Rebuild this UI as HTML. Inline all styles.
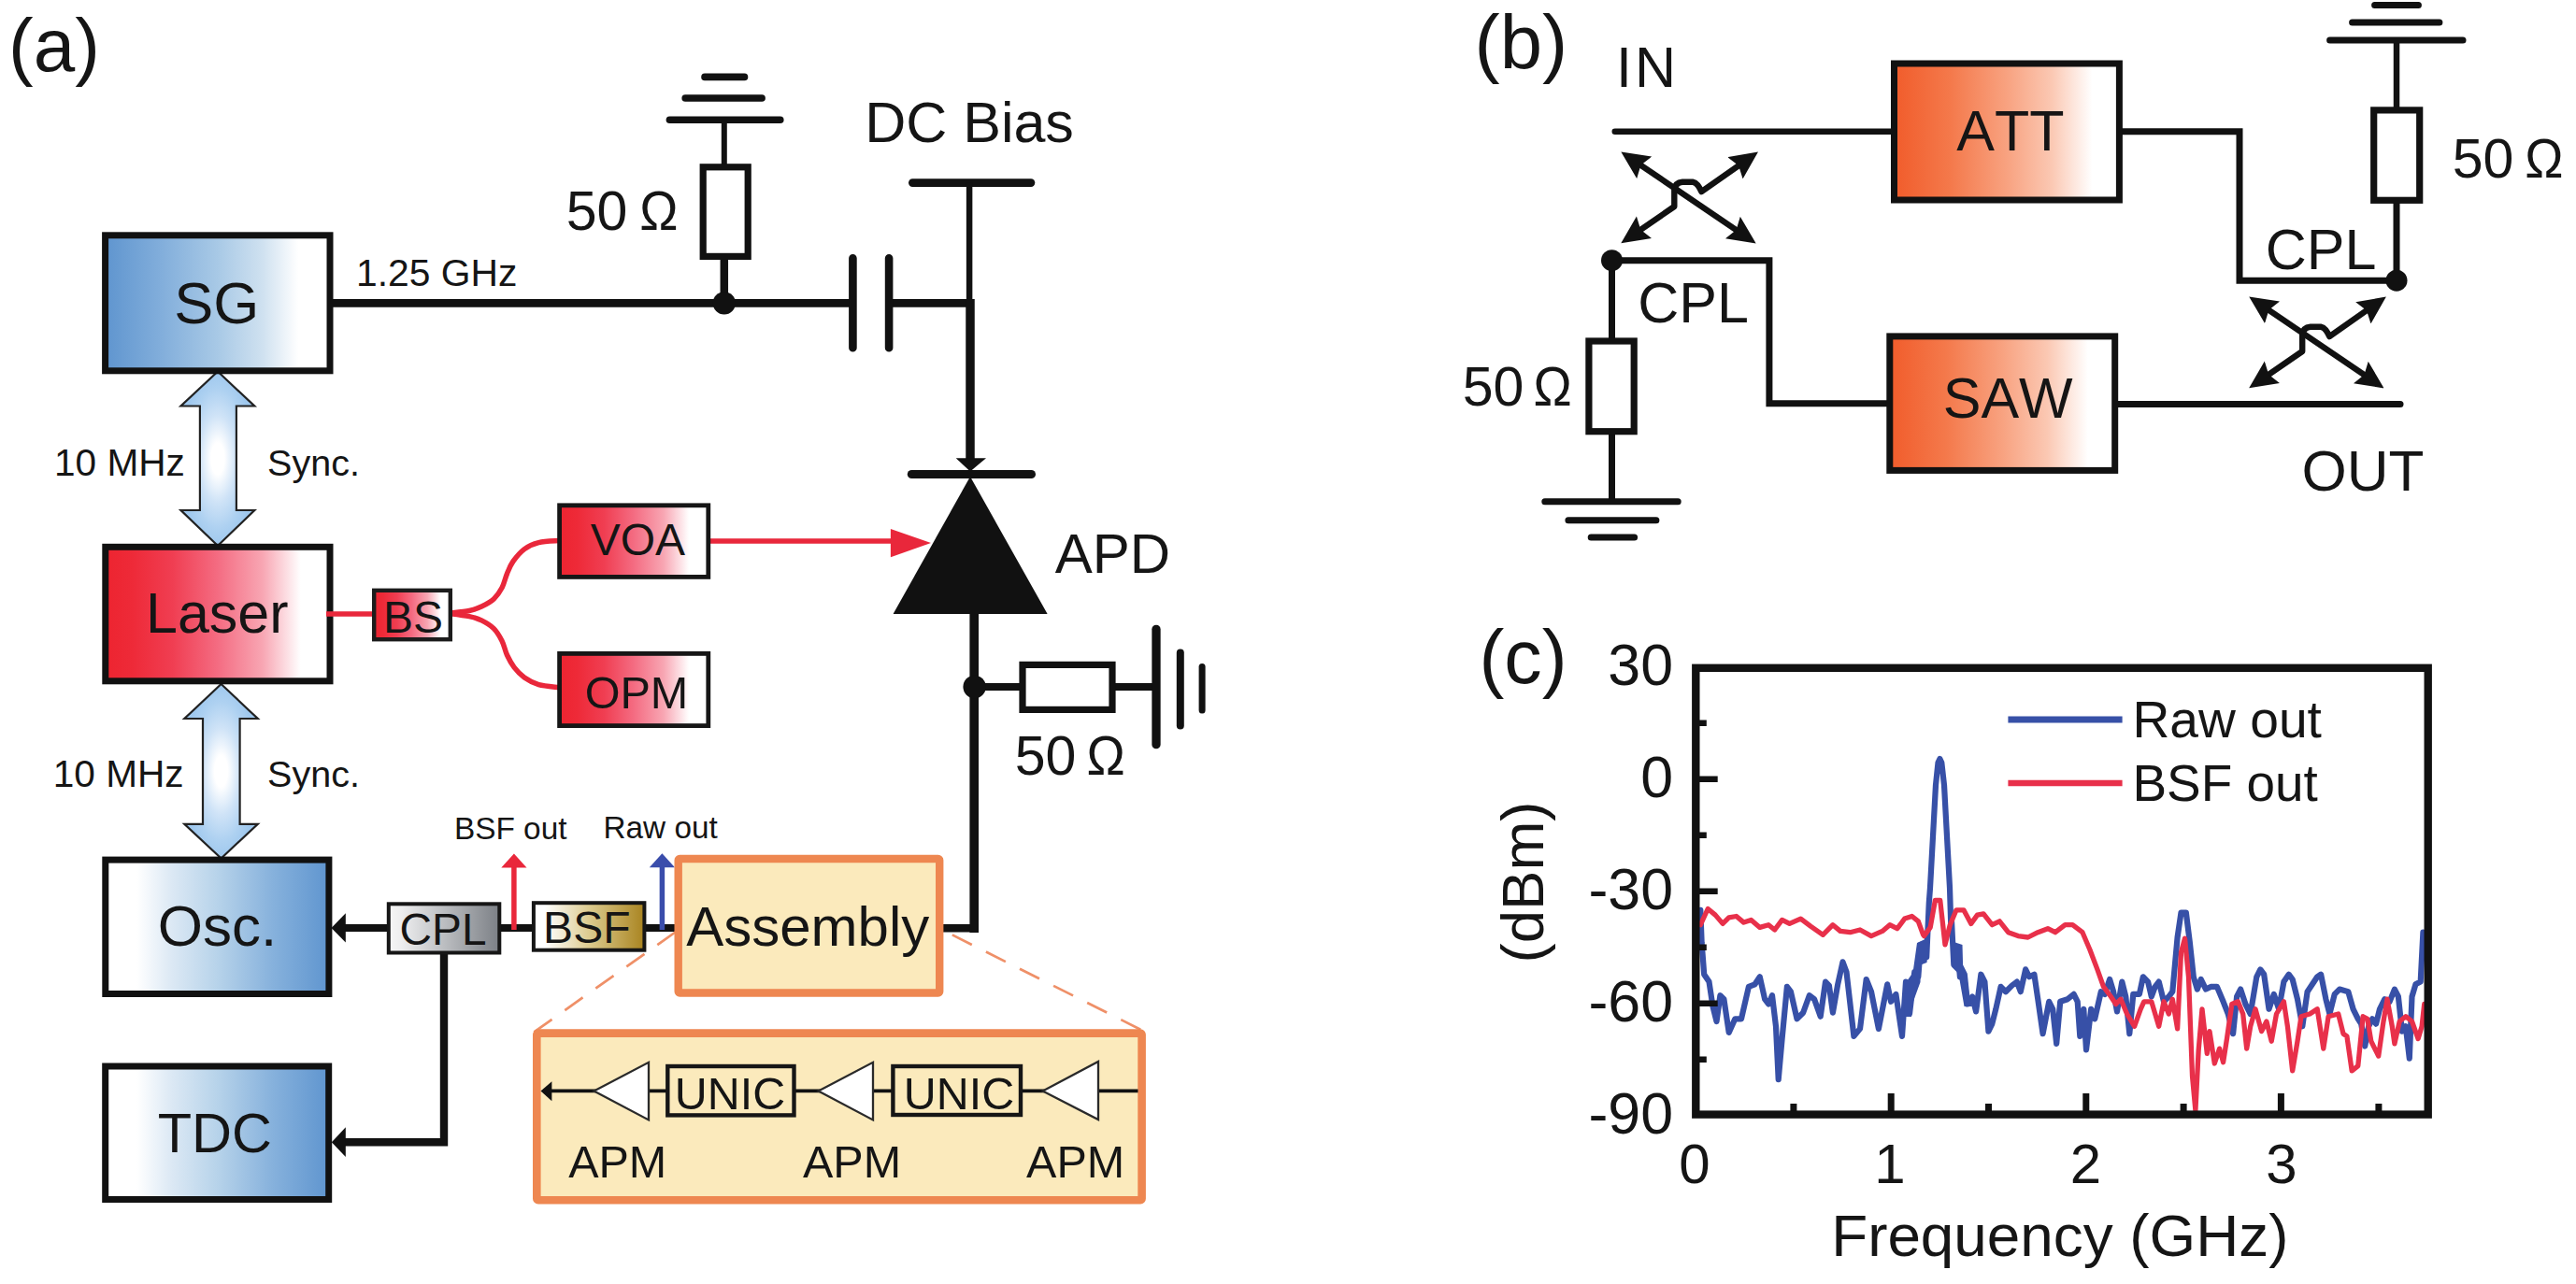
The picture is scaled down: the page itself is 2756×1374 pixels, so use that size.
<!DOCTYPE html>
<html>
<head>
<meta charset="utf-8">
<title>Figure</title>
<style>
html,body{margin:0;padding:0;background:#fff;}
body{width:2756px;height:1374px;overflow:hidden;}
svg{display:block;}
text{font-family:"Liberation Sans",sans-serif;fill:#151515;font-kerning:none;font-feature-settings:"kern" 0,"liga" 0;}
.w{stroke:#111;fill:none;}
</style>
</head>
<body>
<svg width="2756" height="1374" viewBox="0 0 2756 1374">
<defs>
  <linearGradient id="gBlueL" x1="0" y1="0" x2="1" y2="0">
    <stop offset="0" stop-color="#5f95cf"/><stop offset="0.25" stop-color="#82aedb"/><stop offset="0.5" stop-color="#a8c9e6"/><stop offset="0.7" stop-color="#cfe1f0"/><stop offset="0.86" stop-color="#ffffff"/><stop offset="1" stop-color="#ffffff"/>
  </linearGradient>
  <linearGradient id="gBlueR" x1="0" y1="0" x2="1" y2="0">
    <stop offset="0" stop-color="#ffffff"/><stop offset="0.14" stop-color="#ffffff"/><stop offset="0.3" stop-color="#dbe8f4"/><stop offset="0.5" stop-color="#b7d3ea"/><stop offset="0.75" stop-color="#86b1dc"/><stop offset="1" stop-color="#5f95cf"/>
  </linearGradient>
  <linearGradient id="gRed" x1="0" y1="0" x2="1" y2="0">
    <stop offset="0" stop-color="#ed2430"/><stop offset="0.12" stop-color="#ee2a38"/><stop offset="0.3" stop-color="#f03e52"/><stop offset="0.5" stop-color="#f46c82"/><stop offset="0.7" stop-color="#f8a6b3"/><stop offset="0.87" stop-color="#ffffff"/><stop offset="1" stop-color="#ffffff"/>
  </linearGradient>
  <linearGradient id="gOrange" x1="0" y1="0" x2="1" y2="0">
    <stop offset="0" stop-color="#f15c2b"/><stop offset="0.25" stop-color="#f4794b"/><stop offset="0.5" stop-color="#f8a280"/><stop offset="0.7" stop-color="#fbc8b3"/><stop offset="0.88" stop-color="#ffffff"/><stop offset="1" stop-color="#ffffff"/>
  </linearGradient>
  <linearGradient id="gGray" x1="0" y1="0" x2="1" y2="0">
    <stop offset="0" stop-color="#f6f6f6"/><stop offset="0.12" stop-color="#ededee"/><stop offset="0.45" stop-color="#c2c4c7"/><stop offset="1" stop-color="#7c8086"/>
  </linearGradient>
  <linearGradient id="gGold" x1="0" y1="0" x2="1" y2="0">
    <stop offset="0" stop-color="#ffffff"/><stop offset="0.1" stop-color="#ffffff"/><stop offset="0.5" stop-color="#dccb8f"/><stop offset="1" stop-color="#a98420"/>
  </linearGradient>
  <radialGradient id="gArr" cx="0.5" cy="0.5" r="0.5">
    <stop offset="0" stop-color="#ffffff"/><stop offset="0.18" stop-color="#ffffff"/><stop offset="0.5" stop-color="#cfe3f7"/><stop offset="0.8" stop-color="#aed1f1"/><stop offset="1" stop-color="#9fc8ee"/>
  </radialGradient>
  <marker id="mk" viewBox="0 0 30 29" refX="20" refY="14.5" markerWidth="30" markerHeight="29" orient="auto-start-reverse" markerUnits="userSpaceOnUse">
    <path d="M0 0.3 L30 14.5 L0 28.7 L4.5 14.5 Z" fill="#111"/>
  </marker>
  <clipPath id="plotclip"><rect x="1814" y="715" width="784" height="478"/></clipPath>
</defs>

<!-- ================= PANEL (a) ================= -->
<text x="9" y="76" font-size="80">(a)</text>

<!-- double arrows -->
<g stroke-linejoin="miter" fill="url(#gArr)" stroke="#222" stroke-width="2.2">
  <path d="M233 397.5 L272.3 434.5 L252.9 434.5 L252.9 546 L272.3 546 L233 584 L193.5 546 L213.9 546 L213.9 434.5 L193.5 434.5 Z"/>
  <path d="M236.6 732 L275.8 769 L256.6 769 L256.6 881.8 L275.8 881.8 L236.6 918.5 L197.3 881.8 L217 881.8 L217 769 L197.3 769 Z"/>
</g>

<!-- main boxes -->
<rect x="112.6" y="251.8" width="240.4" height="145" fill="url(#gBlueL)" stroke="#111" stroke-width="7"/>
<rect x="112.8" y="585.3" width="240.2" height="143.5" fill="url(#gRed)" stroke="#111" stroke-width="7"/>
<rect x="112.8" y="920.1" width="239.1" height="143.4" fill="url(#gBlueR)" stroke="#111" stroke-width="7"/>
<rect x="112.7" y="1141" width="239" height="142.5" fill="url(#gBlueR)" stroke="#111" stroke-width="7"/>
<text x="231.8" y="346" font-size="63" text-anchor="middle">SG</text>
<text x="232.3" y="676.5" font-size="61" text-anchor="middle">Laser</text>
<text x="232.6" y="1012.4" font-size="62" text-anchor="middle">Osc.</text>
<text x="229.8" y="1233.2" font-size="59.5" text-anchor="middle">TDC</text>

<text x="127.9" y="509" font-size="40.6" text-anchor="middle">10 MHz</text>
<text x="335.5" y="509" font-size="39.5" text-anchor="middle">Sync.</text>
<text x="126.7" y="841.7" font-size="40.6" text-anchor="middle">10 MHz</text>
<text x="335.5" y="841.7" font-size="39.5" text-anchor="middle">Sync.</text>
<text x="467.2" y="306.3" font-size="40.8" text-anchor="middle">1.25 GHz</text>

<!-- SG wire, resistor, capacitor -->
<g class="w">
  <path d="M356 324.4 H912.4" stroke-width="8.6"/>
  <path d="M951 324.4 H1038" stroke-width="8.6"/>
  <path d="M912.4 276.3 V372.2 M951.1 276.3 V372.2" stroke-width="8.6" stroke-linecap="round"/>
  <path d="M754 82.4 H796.5 M733.2 105 H815.1 M716.4 128.3 H834.8" stroke-width="7.6" stroke-linecap="round"/>
  <path d="M774.8 128.3 V176" stroke-width="6"/>
  <path d="M774.8 277 V324.2" stroke-width="8.5"/>
  <rect x="752.2" y="178.8" width="48" height="95.6" stroke-width="7.2" fill="#fff"/>
  <!-- DC bias -->
  <path d="M976.3 195.6 H1103" stroke-width="8.6" stroke-linecap="round"/>
  <path d="M1037.1 195.6 V326" stroke-width="6.5"/>
  <path d="M1038 320 V493" stroke-width="9.5"/>
  <!-- APD -->
  <path d="M975.4 507.5 H1103.4" stroke-width="9.2" stroke-linecap="round"/>
  <path d="M1042.2 655 V997.9" stroke-width="9.6"/>
  <path d="M1009 993.3 H1046.7" stroke-width="8.6"/>
  <path d="M1042.8 735 H1092.6 M1193 735 H1237" stroke-width="8"/>
  <rect x="1094" y="711.4" width="96" height="48" stroke-width="7.2" fill="#fff"/>
  <path d="M1237 673.3 V796.7" stroke-width="9.3" stroke-linecap="round"/>
  <path d="M1262.8 698.5 V776.5" stroke-width="8" stroke-linecap="round"/>
  <path d="M1286.1 713.4 V760.1" stroke-width="7" stroke-linecap="round"/>
</g>
<circle cx="774.8" cy="324.4" r="12.1" fill="#111"/>
<circle cx="1042.6" cy="735" r="12.2" fill="#111"/>
<path d="M1022.7 490.3 L1055 490.3 L1038 504.5 Z" fill="#111"/>
<path d="M1038 510 L955.6 657 L1120.6 657 Z" fill="#111"/>

<text x="605.8" y="245.9" font-size="59">50</text><text transform="translate(684.3 245.9) scale(0.92 1)" font-size="60">Ω</text>
<text x="1037" y="152.3" font-size="61" text-anchor="middle">DC Bias</text>
<text x="1190.4" y="613.2" font-size="60" text-anchor="middle">APD</text>
<text x="1085.8" y="828.5" font-size="59">50</text><text transform="translate(1162.6 828.5) scale(0.92 1)" font-size="60">Ω</text>

<!-- optical red path -->
<g fill="none" stroke="#e9273b" stroke-width="5.5">
  <path d="M349 657 H400"/>
  <path d="M479.2 656.3 C483.0 655.8 496.1 654.7 502.1 653.5 C508.1 652.3 510.8 651.2 515.2 649.1 C519.6 647.0 524.7 644.4 528.3 641.0 C531.9 637.6 534.6 633.5 537.0 629.0 C539.4 624.5 540.5 618.5 542.5 613.8 C544.5 609.1 545.9 605.1 549.0 600.7 C552.1 596.3 556.5 591.0 561.0 587.6 C565.5 584.2 570.1 582.1 576.3 580.6 C582.5 579.1 594.4 578.9 598.0 578.6"/>
  <path d="M479.2 656.3 C483.0 656.8 496.1 658.3 502.1 659.6 C508.1 660.9 510.8 661.7 515.2 663.9 C519.6 666.1 524.7 669.0 528.3 672.6 C531.9 676.2 534.6 681.0 537.0 685.7 C539.4 690.4 540.3 696.3 542.5 701.0 C544.7 705.7 547.0 710.1 550.1 714.1 C553.2 718.1 556.6 721.9 561.0 725.0 C565.4 728.1 570.1 730.8 576.3 732.6 C582.5 734.4 594.4 735.1 598.0 735.6"/>
  <path d="M760 579.1 H960"/>
</g>
<path d="M952.9 565.9 L996 581 L952.9 596.2 Z" fill="#e9273b"/>
<rect x="400.2" y="631.8" width="81.6" height="52.4" fill="url(#gRed)" stroke="#1c1c1c" stroke-width="4.4"/>
<text x="441.9" y="676.7" font-size="48" text-anchor="middle">BS</text>
<rect x="598.6" y="540.8" width="159.2" height="76.6" fill="url(#gRed)" stroke="#161616" stroke-width="4.8"/>
<rect x="598.6" y="699.4" width="159.2" height="77.2" fill="url(#gRed)" stroke="#161616" stroke-width="4.8"/>
<text x="682.4" y="594.2" font-size="48" text-anchor="middle">VOA</text>
<text x="681" y="758.3" font-size="48.6" text-anchor="middle">OPM</text>

<!-- bottom chain -->
<g class="w">
  <path d="M362 993 H724" stroke-width="8"/>
  <path d="M475 1020 V1222.3 H362" stroke-width="8.4" stroke-linejoin="miter"/>
</g>
<path d="M354.5 993 L369.8 977.3 L369.8 1008.6 Z" fill="#111"/>
<path d="M354.8 1222.3 L369.8 1206.3 L369.8 1238 Z" fill="#111"/>
<rect x="415.8" y="967.3" width="118.5" height="52.2" fill="url(#gGray)" stroke="#161616" stroke-width="4"/>
<rect x="570.9" y="966.2" width="118.5" height="50.5" fill="url(#gGold)" stroke="#161616" stroke-width="4"/>
<text x="474" y="1011.2" font-size="47.8" text-anchor="middle">CPL</text>
<text x="627.8" y="1009" font-size="48" text-anchor="middle">BSF</text>
<path d="M549.9 995 V926" stroke="#e9273b" stroke-width="5.5" fill="none"/>
<path d="M536.3 928.6 L563.5 928.6 L549.9 913.6 Z" fill="#e9273b"/>
<path d="M708.4 995 V926" stroke="#3a4dab" stroke-width="5.5" fill="none"/>
<path d="M694.8 928.3 L722 928.3 L708.4 913.3 Z" fill="#3a4dab"/>
<text x="546.2" y="897.9" font-size="33.4" text-anchor="middle">BSF out</text>
<text x="706.6" y="897.4" font-size="33.3" text-anchor="middle">Raw out</text>

<!-- dashed -->
<g stroke="#ef9068" stroke-width="2.7" fill="none" stroke-dasharray="23.5 16.9">
  <path d="M722.5 997.5 L571 1104.6"/>
  <path d="M1018.8 1000.4 L1226 1104.6"/>
</g>
<!-- assembly -->
<rect x="725.7" y="919" width="279.5" height="143.5" rx="1.5" fill="#fbeabc" stroke="#ee8751" stroke-width="8.4"/>
<text x="864.2" y="1012.3" font-size="60" text-anchor="middle">Assembly</text>
<rect x="574.3" y="1105.6" width="647.3" height="178.6" rx="1.5" fill="#fbeabc" stroke="#ee8751" stroke-width="8.6"/>
<g class="w" stroke-width="3.6">
  <path d="M584 1167.4 H1217.5"/>
</g>
<path d="M578.5 1167.4 L590.4 1157.2 L590.4 1178.2 Z" fill="#111"/>
<g fill="#fff" stroke="#2a2a2a" stroke-width="2.3" stroke-linejoin="miter">
  <path d="M635.5 1167.4 L694 1136.8 L694 1198.4 Z"/>
  <path d="M875.6 1167.4 L934 1136.8 L934 1198.4 Z"/>
  <path d="M1115.6 1167.4 L1175 1136 L1175 1198 Z"/>
</g>
<rect x="714.3" y="1141" width="135.2" height="52.4" fill="#fbeabc" stroke="#161616" stroke-width="4.4"/>
<rect x="955.4" y="1141" width="136.6" height="52" fill="#fbeabc" stroke="#161616" stroke-width="4.4"/>
<text x="781" y="1187" font-size="48.4" text-anchor="middle">UNIC</text>
<text x="1026" y="1187" font-size="48.4" text-anchor="middle">UNIC</text>
<text x="660.7" y="1260.4" font-size="48.5" text-anchor="middle">APM</text>
<text x="911.5" y="1260.4" font-size="48.5" text-anchor="middle">APM</text>
<text x="1150.6" y="1260.4" font-size="48.5" text-anchor="middle">APM</text>

<!-- ================= PANEL (b) ================= -->
<text x="1577.5" y="73" font-size="81.5">(b)</text>
<text x="1762.5" y="93.2" font-size="61" text-anchor="middle" letter-spacing="3">IN</text>
<g class="w">
  <path d="M1727.8 140.8 H2024" stroke-width="6.6" stroke-linecap="round"/>
  <path d="M1724.5 278.7 H1892.9 V431.7 H2019" stroke-width="7"/>
  <path d="M1724.5 278.7 V364" stroke-width="7"/>
  <path d="M1724.5 464 V536.7" stroke-width="7"/>
  <rect x="1699.9" y="365" width="48.3" height="96.7" stroke-width="7.2" fill="#fff"/>
  <path d="M1652.8 536.7 H1795.2 M1677.9 556.7 H1771.9 M1702.2 575 H1748.6" stroke-width="7" stroke-linecap="round"/>
  <path d="M2266 432.4 H2568" stroke-width="7" stroke-linecap="round"/>
  <path d="M2270 140.8 H2396 V300.2 H2564" stroke-width="7"/>
  <path d="M2564 300.2 V216.5" stroke-width="7"/>
  <path d="M2564 116 V43" stroke-width="6.5"/>
  <rect x="2539.7" y="117.9" width="49" height="96.4" stroke-width="7.2" fill="#fff"/>
  <path d="M2492.6 43 H2635 M2516.6 24 H2609.9 M2540.6 5.4 H2587.4" stroke-width="7" stroke-linecap="round"/>
</g>
<circle cx="1724.5" cy="278.7" r="11.5" fill="#111"/>
<circle cx="2564" cy="300.2" r="11.5" fill="#111"/>
<rect x="2026.5" y="68" width="240.9" height="146" fill="url(#gOrange)" stroke="#111" stroke-width="7"/>
<rect x="2021.8" y="359.9" width="240.9" height="143.5" fill="url(#gOrange)" stroke="#111" stroke-width="7"/>
<text x="2150.9" y="161.3" font-size="61" text-anchor="middle">ATT</text>
<text x="2148.2" y="446.7" font-size="61" text-anchor="middle">SAW</text>
<text x="1811.5" y="344.7" font-size="61" text-anchor="middle">CPL</text>
<text x="2483" y="288.4" font-size="61" text-anchor="middle">CPL</text>
<text x="1564.8" y="434.0" font-size="59">50</text><text transform="translate(1640.4 434.0) scale(0.92 1)" font-size="60">Ω</text>
<text x="2623.8" y="189.7" font-size="59">50</text><text transform="translate(2701.3 189.7) scale(0.92 1)" font-size="60">Ω</text>
<text x="2528" y="525.2" font-size="62" text-anchor="middle">OUT</text>

<!-- cross arrows -->
<g class="w" stroke-width="6.4" stroke-linejoin="round">
  <path d="M1742.6 168.1 L1870.4 254.8" marker-start="url(#mk)" marker-end="url(#mk)"/>
  <path d="M1742.5 254.6 L1791.3 221 L1791.3 203.5 Q1792 195.4 1800 194.8 L1811.5 194.8 Q1816.5 196 1820.3 205.1 L1872.8 168.3" marker-start="url(#mk)" marker-end="url(#mk)"/>
</g>
<g transform="translate(671.9 155)" class="w" stroke-width="6.4" stroke-linejoin="round">
  <path d="M1742.6 168.1 L1870.4 254.8" marker-start="url(#mk)" marker-end="url(#mk)"/>
  <path d="M1742.5 254.6 L1791.3 221 L1791.3 203.5 Q1792 195.4 1800 194.8 L1811.5 194.8 Q1816.5 196 1820.3 205.1 L1872.8 168.3" marker-start="url(#mk)" marker-end="url(#mk)"/>
</g>

<!-- ================= PANEL (c) ================= -->
<text x="1582.5" y="730.5" font-size="80.7">(c)</text>
<g font-size="62.7" text-anchor="end">
  <text x="1790" y="733.3">30</text>
  <text x="1790" y="853.3">0</text>
  <text x="1790" y="972.8">-30</text>
  <text x="1790" y="1093">-60</text>
  <text x="1790" y="1213">-90</text>
</g>
<text transform="translate(1651 944) rotate(-90)" font-size="63.5" text-anchor="middle">(dBm)</text>
<g font-size="60" text-anchor="middle">
  <text x="1813" y="1266">0</text>
  <text x="2022" y="1266">1</text>
  <text x="2231.5" y="1266">2</text>
  <text x="2441" y="1266">3</text>
</g>
<text x="2203.8" y="1344" font-size="63.8" text-anchor="middle">Frequency (GHz)</text>

<g clip-path="url(#plotclip)" fill="none" stroke-linejoin="round" stroke-linecap="round">
  <path d="M1819.3 973.8 L1820.6 1008.3 L1823.2 1042.7 L1828.5 1050.6 L1832.5 1077.1 L1836.5 1093.0 L1840.4 1065.2 L1844.4 1069.2 L1849.7 1104.9 L1856.3 1090.3 L1863.0 1090.3 L1870.9 1055.9 L1877.5 1053.3 L1882.8 1045.3 L1888.1 1069.2 L1892.1 1074.5 L1896.0 1065.2 L1900.0 1098.3 L1902.7 1155.2 L1906.6 1111.5 L1911.9 1055.9 L1915.9 1061.2 L1922.5 1090.3 L1929.1 1083.7 L1935.8 1065.2 L1941.1 1069.2 L1947.7 1087.7 L1953.0 1050.6 L1956.9 1054.6 L1960.9 1083.7 L1966.2 1053.3 L1971.5 1029.4 L1975.5 1040.0 L1983.4 1108.9 L1990.0 1100.9 L1996.7 1048.0 L2002.0 1061.2 L2009.9 1100.9 L2019.2 1053.3 L2023.1 1071.8 L2028.4 1063.9 L2035.0 1108.9 L2039.0 1050.6 L2043.0 1085.0 L2048.3 1040.0 L2052.3 1045.3 L2054.9 1010.9 L2060.2 1024.2 L2061.2 1024.2 L2063.8 965.9 L2065.0 950.0 L2068.0 895.0 L2071.0 840.0 L2073.5 816.0 L2075.4 812.0 L2077.3 816.0 L2080.0 840.0 L2083.0 895.0 L2086.0 950.0 L2087.4 994.0 L2087.7 979.1 L2090.3 1032.1 L2094.3 1013.6 L2096.9 1045.3 L2100.9 1042.7 L2104.9 1074.5 L2110.2 1066.5 L2114.1 1082.4 L2119.4 1042.7 L2123.4 1050.6 L2127.4 1103.6 L2131.3 1095.6 L2135.3 1079.8 L2140.6 1055.9 L2145.9 1061.2 L2152.5 1054.6 L2157.8 1050.6 L2161.8 1061.2 L2167.1 1037.4 L2171.1 1045.3 L2176.4 1042.7 L2180.3 1069.2 L2185.6 1106.2 L2192.2 1071.8 L2196.2 1079.8 L2200.2 1116.8 L2204.2 1071.8 L2212.1 1069.2 L2218.7 1063.9 L2222.7 1071.8 L2225.3 1108.9 L2229.3 1079.8 L2232.0 1123.4 L2237.2 1079.8 L2241.2 1090.3 L2247.8 1061.2 L2251.8 1063.9 L2257.1 1048.0 L2261.1 1061.2 L2265.0 1082.4 L2270.3 1050.6 L2274.3 1066.5 L2278.3 1106.2 L2282.3 1063.9 L2288.9 1063.9 L2292.8 1045.3 L2298.1 1050.6 L2301.8 1066.5 L2305.7 1055.9 L2309.7 1050.6 L2315.0 1071.8 L2320.3 1066.5 L2324.3 1061.2 L2329.6 1003.0 L2333.5 976.5 L2338.8 976.5 L2342.8 1008.3 L2346.8 1045.3 L2350.8 1058.6 L2354.7 1048.0 L2360.0 1058.6 L2365.3 1055.9 L2371.9 1055.9 L2378.6 1071.8 L2383.8 1085.0 L2389.1 1106.2 L2393.1 1066.5 L2397.1 1058.6 L2402.4 1074.5 L2407.7 1085.0 L2414.3 1045.3 L2418.3 1037.4 L2422.2 1042.7 L2427.5 1079.8 L2432.8 1063.9 L2438.1 1079.8 L2443.4 1050.6 L2448.7 1042.7 L2452.7 1048.0 L2458.0 1069.2 L2463.3 1098.3 L2468.6 1061.2 L2473.9 1053.3 L2479.2 1045.3 L2483.1 1042.7 L2488.4 1069.2 L2492.4 1085.0 L2497.7 1063.9 L2503.0 1058.6 L2512.3 1061.2 L2517.6 1079.8 L2522.8 1090.3 L2526.2 1095.6 L2530.2 1119.5 L2534.1 1098.3 L2538.1 1090.3 L2542.1 1095.6 L2546.0 1079.8 L2551.3 1069.2 L2556.6 1071.8 L2561.9 1058.6 L2565.9 1066.5 L2569.9 1103.6 L2573.8 1098.3 L2577.8 1132.7 L2580.5 1066.5 L2584.4 1053.3 L2589.7 1050.6 L2592.4 997.7" stroke="#3750a7" stroke-width="6.2"/>
  <path d="M2051 1009 L2064 1003 L2061.5 1030 L2055 1032.5 L2054.5 1051 L2045 1077 L2045 1088 L2037 1088 L2038.5 1052 L2046.5 1041 Z M2087.2 1007 L2099.5 1011 L2100.1 1032.4 L2104.8 1041.8 L2107 1063 L2110 1077 L2101.5 1077 L2095.4 1042 L2088.4 1035 Z" fill="#3750a7" stroke="none"/>
  <path d="M1819.3 989.7 L1827.2 972.5 L1835.2 979.1 L1843.1 988.4 L1849.7 981.8 L1857.7 980.5 L1865.6 987.1 L1873.5 984.4 L1882.8 992.4 L1892.1 989.7 L1898.7 995.0 L1906.6 984.4 L1914.6 988.4 L1926.5 983.1 L1937.1 991.1 L1950.3 1000.3 L1960.9 989.7 L1968.9 996.4 L1979.4 997.7 L1990.0 995.0 L2002.0 1001.6 L2013.9 996.4 L2021.8 989.7 L2029.8 993.7 L2037.7 983.1 L2045.6 980.5 L2052.3 985.8 L2057.6 1000.3 L2058.5 1001.6 L2065.2 992.4 L2070.4 963.3 L2075.7 963.3 L2081.0 1010.9 L2086.3 989.7 L2093.0 973.8 L2100.9 973.8 L2108.8 988.4 L2115.5 979.1 L2122.1 977.8 L2131.3 989.7 L2139.3 985.8 L2148.6 997.7 L2159.1 1001.6 L2169.7 1003.0 L2180.3 997.7 L2190.9 993.7 L2198.9 997.7 L2209.4 989.7 L2217.4 989.7 L2228.0 997.7 L2235.9 1016.2 L2243.9 1037.4 L2250.5 1055.9 L2258.4 1066.5 L2263.7 1074.5 L2269.0 1069.2 L2275.6 1085.0 L2283.6 1098.3 L2290.2 1079.8 L2293.8 1071.8 L2301.8 1071.8 L2309.7 1098.3 L2315.0 1071.8 L2320.3 1085.0 L2324.3 1069.2 L2329.6 1100.9 L2333.5 1018.9 L2337.5 1004.3 L2341.5 1045.3 L2345.5 1151.2 L2348.9 1188.3 L2352.1 1124.8 L2356.0 1079.8 L2361.3 1127.4 L2364.0 1103.6 L2369.3 1138.0 L2374.6 1122.1 L2378.6 1136.7 L2382.5 1111.5 L2387.8 1074.5 L2394.4 1071.8 L2399.7 1085.0 L2403.7 1122.1 L2407.7 1098.3 L2413.0 1079.8 L2419.6 1103.6 L2424.9 1093.0 L2430.2 1114.2 L2435.5 1085.0 L2443.4 1071.8 L2447.4 1098.3 L2452.7 1145.9 L2458.0 1114.2 L2462.0 1087.7 L2471.2 1085.0 L2479.2 1079.8 L2485.8 1122.1 L2491.1 1087.7 L2501.7 1085.0 L2507.0 1106.2 L2510.9 1108.9 L2516.2 1145.9 L2522.8 1140.6 L2528.1 1087.7 L2532.8 1090.3 L2536.8 1114.2 L2544.7 1130.1 L2550.0 1093.0 L2554.0 1069.2 L2559.3 1098.3 L2561.9 1116.8 L2567.2 1093.0 L2573.8 1087.7 L2580.5 1093.0 L2587.1 1111.5 L2591.1 1098.3 L2593.7 1074.5" stroke="#e8304a" stroke-width="5.3"/>
</g>
<g class="w">
  <path d="M1814 773.8 H1825.8 M1814 893.8 H1825.8 M1814 1013.8 H1825.8 M1814 1133.8 H1825.8" stroke-width="6.5"/>
  <path d="M1814 833.8 H1837.7 M1814 953.8 H1837.7 M1814 1073.8 H1837.7" stroke-width="6.5"/>
  <path d="M2023.2 1192 V1170 M2231.8 1192 V1170 M2440.4 1192 V1170" stroke-width="7"/>
  <path d="M1918.9 1192 V1181 M2127.5 1192 V1181 M2336.1 1192 V1181 M2544.9 1192 V1181" stroke-width="7"/>
  <rect x="1814.3" y="714.8" width="783.4" height="477.8" stroke-width="8.4"/>
</g>
<path d="M2148.4 770 H2270.6" stroke="#3750a7" stroke-width="7" fill="none"/>
<path d="M2148.4 838 H2270.6" stroke="#e8304a" stroke-width="6.4" fill="none"/>
<text x="2281.5" y="789" font-size="55.2">Raw out</text>
<text x="2281.5" y="857" font-size="54.9">BSF out</text>
</svg>
</body>
</html>
